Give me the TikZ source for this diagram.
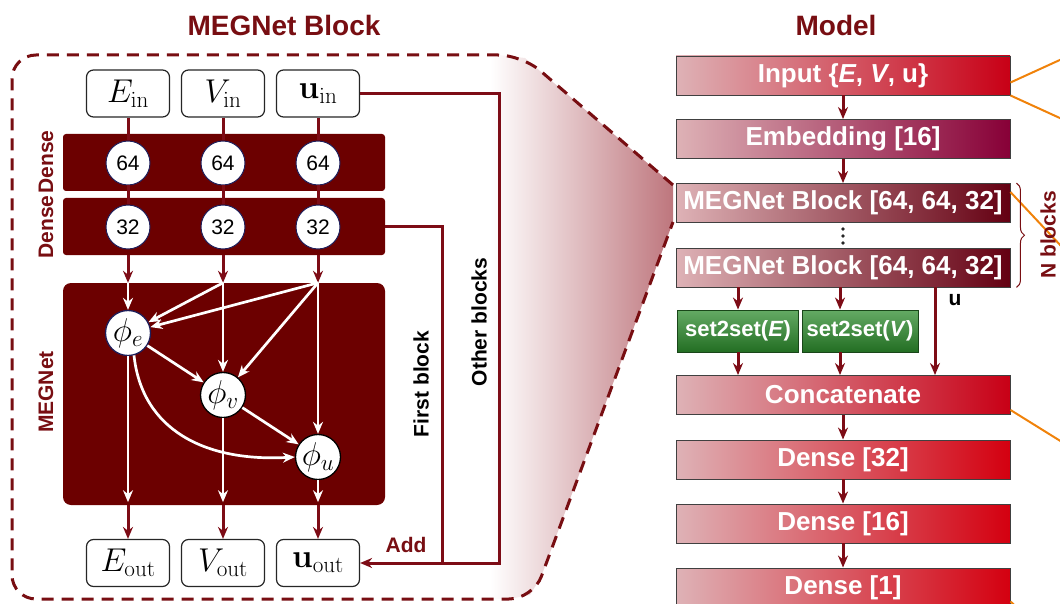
\RequirePackage{fix-cm}
\documentclass[tikz,border=0pt]{standalone}
\usepackage[no-math]{fontspec}
\setmainfont{Liberation Sans}
\usetikzlibrary{arrows.meta,decorations.pathreplacing,calc}
\newcommand\myfs[1]{\fontsize{#1}{#1}\selectfont}
\definecolor{dred}{RGB}{108,0,0}
\definecolor{cred}{RGB}{125,12,22}
\definecolor{tred}{RGB}{120,14,18}
\definecolor{pinkL}{RGB}{222,178,182}
\definecolor{inR}{RGB}{200,0,22}
\definecolor{embR}{RGB}{135,0,55}
\definecolor{megR}{RGB}{100,0,18}
\definecolor{denR}{RGB}{212,0,16}
\definecolor{grT}{RGB}{100,170,100}
\definecolor{grB}{RGB}{35,110,35}
\definecolor{grD}{RGB}{25,70,25}
\definecolor{orng}{RGB}{240,130,10}
\definecolor{rosy}{RGB}{190,118,125}
\definecolor{navyc}{RGB}{30,30,90}
\tikzset{
  carrow/.style={draw=cred, line width=3pt, -{Stealth[length=12pt,width=10pt]}},
  cline/.style={draw=cred, line width=3pt},
  warrow/.style={draw=white, line width=2.7pt, -{Stealth[length=12pt,width=10pt]}},
  iobox/.style={draw=black!85, fill=white, rounded corners=7pt, line width=1.2pt, minimum width=83pt, minimum height=47pt, inner sep=0pt, font=\myfs{33}},
  bar/.style={fill=dred, rounded corners=3pt, minimum width=322pt, minimum height=57pt, inner sep=0pt},
  numc/.style={circle, fill=white, draw=navyc, line width=1pt, minimum size=44pt, inner sep=0pt, font=\myfs{21}},
  phic/.style={circle, fill=white, draw=black, line width=1.3pt, minimum size=45pt, inner sep=0pt, font=\myfs{33}},
  rlab/.style={rotate=90, font=\myfs{21}\bfseries, text=tred},
  blab/.style={rotate=90, font=\myfs{21}\bfseries, text=black},
  mbox/.style={draw=black!75, line width=0.9pt, minimum width=334pt, minimum height=39pt, inner sep=0pt, text=white, font=\myfs{26}\bfseries, left color=pinkL},
  gbox/.style={draw=grD, line width=0.9pt, minimum height=42pt, inner sep=0pt, text=white, font=\myfs{22}\bfseries, top color=grT, bottom color=grB},
  orl/.style={draw=orng, line width=2pt},
  dashline/.style={draw=tred, line width=3pt, dash pattern=on 12pt off 8pt, rounded corners=24pt},
  ttl/.style={font=\myfs{28}\bfseries, text=tred},
}
\begin{document}
\begin{tikzpicture}[x=1pt,y=-1pt]
\useasboundingbox (0,0) rectangle (1060,604);
\clip (0,0) rectangle (1060,604);
% zoom fan
\shade[left color=white, right color=rosy] (490,55) -- (498,55) -- (525,58) -- (540,71) -- (673,185) -- (673,222) -- (541,577) -- (530,595) -- (509,599) -- (490,599) -- cycle;
\draw[dashline] (673,185) -- (522,55) -- (12,55) -- (12,599) -- (533,599) -- (673,222);
% titles
\node[ttl] (t1) at (284,25) {MEGNet Block};
\node[ttl] (t2) at (836,25) {Model};
% MEGNet block
\node[iobox] (ein) at (128,93.5) {$E_{\mathrm{in}}$};
\node[iobox] (vin) at (223,93.5) {$V_{\mathrm{in}}$};
\node[iobox] (uin) at (318,93.5) {$\mathbf{u}_{\mathrm{in}}$};
\node[bar] (d1) at (224,162.5) {};
\node[bar] (d2) at (224,226.5) {};
\node[bar, minimum height=222pt, rounded corners=8pt] (meg) at (224,394) {};
\node[numc] (e64) at (128,163) {64};
\node[numc] (v64) at (223,163) {64};
\node[numc] (u64) at (318,163) {64};
\node[numc] (e32) at (128,227) {32};
\node[numc] (v32) at (223,227) {32};
\node[numc] (u32) at (318,227) {32};
\node[phic, draw=navyc] (phie) at (128,333) {$\phi_e$};
\node[phic] (phiv) at (223,395) {$\phi_v$};
\node[phic] (phiu) at (318,457) {$\phi_u$};
\node[iobox] (eout) at (128,563) {$E_{\mathrm{out}}$};
\node[iobox] (vout) at (223,563) {$V_{\mathrm{out}}$};
\node[iobox] (uout) at (318,563) {$\mathbf{u}_{\mathrm{out}}$};
% input lines
\foreach \c in {e,v,u} {
  \draw[cline] (\c in.south) -- (\c 64.north);
  \draw[cline] (\c 64.south) -- (\c 32.north);
  \draw[carrow] (\c 32 |- d2.south) -- (\c 32 |- meg.north);
}
\coordinate (eT) at (e32 |- meg.north);
\coordinate (vT) at (v32 |- meg.north);
\coordinate (uT) at (u32 |- meg.north);
\draw[warrow] (eT) -- (phie);
\draw[warrow] (vT) -- (phie);
\draw[warrow] (vT) -- (phiv);
\draw[warrow] (uT) -- (phie);
\draw[warrow] (uT) -- (phiv);
\draw[warrow] (uT) -- (phiu);
\draw[warrow] (phie) -- (phiv);
\draw[warrow] (phiv) -- (phiu);
\draw[warrow] (phie.-75) .. controls (142,430) and (205,462) .. (phiu.west);
\draw[warrow, shorten >=3pt] (phie) -- (phie |- meg.south);
\draw[warrow, shorten >=3pt] (phiv) -- (phiv |- meg.south);
\draw[warrow, shorten >=3pt] (phiu) -- (phiu |- meg.south);
\draw[carrow] (phie |- meg.south) -- (eout);
\draw[carrow] (phiv |- meg.south) -- (vout);
\draw[carrow] (phiu |- meg.south) -- (uout);
% bypass
\coordinate (ob) at (499,0);
\coordinate (fb) at (442,0);
\draw[cline] (uin.east) -- (uin.east -| ob) -- (ob |- uout.east) -- (uout.east -| fb);
\draw[carrow] (d2.east) -- (d2.east -| fb) -- (fb |- uout.east) -- (uout.east);
% labels
\node[rlab] (lde1) at (46,162) {Dense};
\node[rlab] (lde2) at (46,227) {Dense};
\node[rlab] (lmeg) at (46,392) {MEGNet};
\node[blab] (lfb) at (421,384) {First block};
\node[blab] (lob) at (479,322) {Other blocks};
\node[font=\myfs{21}\bfseries, text=tred] (ladd) at (406,545) {Add};
% Model
\node[mbox, right color=inR] (inp) at (843,75.5) {Input \{\textit{E}, \textit{V}, u\}};
\node[mbox, right color=embR] (emb) at (843,139) {Embedding [16]};
\node[mbox, right color=megR] (meg1) at (843,203) {MEGNet Block [64, 64, 32]};
\foreach \yy in {229,236,243} \fill[black!85] (843,\yy) circle (1.9pt);
\node[mbox, right color=megR] (meg2) at (843,267.5) {MEGNet Block [64, 64, 32]};
\node[gbox, minimum width=121pt] (s2e) at (738,331) {set2set(\textit{E})};
\node[gbox, minimum width=116pt] (s2v) at (860,331) {set2set(\textit{V})};
\node[mbox, right color=inR] (cat) at (843,395) {Concatenate};
\node[mbox, right color=denR] (den32) at (843,459.5) {Dense [32]};
\node[mbox, right color=denR] (den16) at (843,523.5) {Dense [16]};
\node[mbox, right color=denR] (den1) at (843,587.5) {Dense [1]};
\coordinate (mx) at (840,0);
\coordinate (ux) at (935,0);
\draw[carrow] (inp) -- (emb);
\draw[carrow] (emb) -- (meg1);
\draw[carrow] (meg2.south -| s2e) -- (s2e);
\draw[carrow] (meg2.south -| mx) -- (s2v.north -| mx);
\draw[carrow] (s2e.south) -- (s2e.south |- cat.north);
\draw[carrow] (s2v.south -| mx) -- (cat.north -| mx);
\draw[carrow] (meg2.south -| ux) -- (cat.north -| ux);
\node[font=\myfs{21}\bfseries] (ulab) at (955,300) {u};
\draw[carrow] (cat) -- (den32);
\draw[carrow] (den32) -- (den16);
\draw[carrow] (den16) -- (den1);
% orange zoom lines
\coordinate (o1) at (1062,59);
\coordinate (o2) at (1062,119);
\coordinate (o3) at (1062,247);
\coordinate (o4) at (1062,442);
\coordinate (o5) at (1024,614);
\draw[orl] ([yshift=-7pt]inp.east) -- (o1);
\draw[orl] (inp.south east) -- (o2);
\draw[orl] ([yshift=-9pt]meg1.north east) -- (o3);
\draw[orl] ([yshift=5pt]cat.south east) -- (o4);
\draw[orl] ([yshift=6pt]den1.south east) -- (o5);
% brace
\draw[draw=tred, line width=1pt, decorate, decoration={brace, amplitude=8pt}] ([xshift=6pt]meg1.north east) -- ([xshift=6pt]meg2.south east);
\node[rlab] (nbl) at (1048,235) {N blocks};
\end{tikzpicture}
\end{document}
